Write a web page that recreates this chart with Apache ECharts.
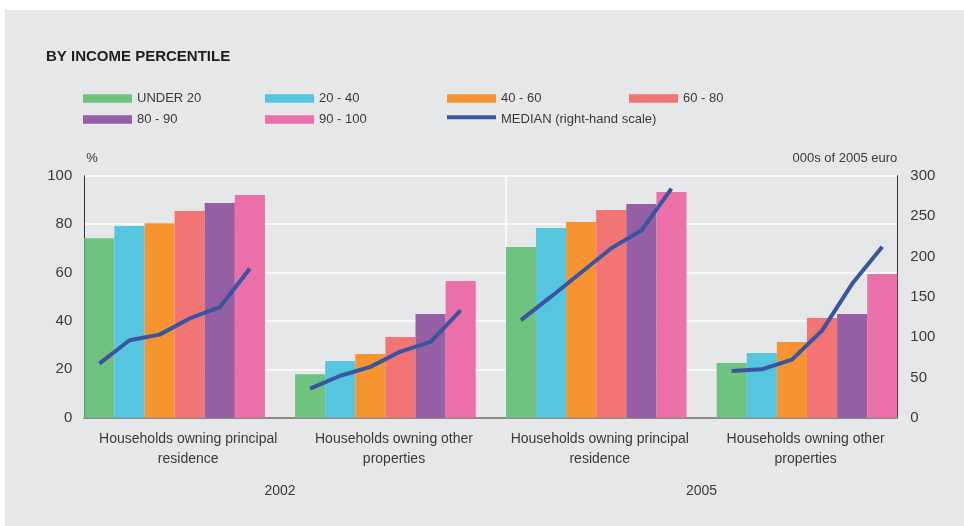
<!DOCTYPE html>
<html>
<head>
<meta charset="utf-8">
<title>By income percentile</title>
<script src="https://cdn.jsdelivr.net/npm/echarts@6/dist/echarts.min.js"></script>
<style>
  html, body { margin: 0; padding: 0; background: #ffffff; }
  #wrap { position: relative; width: 964px; height: 526px; overflow: hidden; }
  #panel { position: absolute; left: 5px; top: 10px; right: 0; bottom: 0; background: #e6e7e9; }
  #chart { position: absolute; left: 0; top: 0; width: 964px; height: 526px; }
</style>
</head>
<body>
<div id="wrap"><div id="panel"></div><div id="chart"></div></div>
<script>
// Group labels (x axis) and survey years
const groups = [
  'Households owning principal\nresidence',
  'Households owning other\nproperties',
  'Households owning principal\nresidence',
  'Households owning other\nproperties'
];
const years = ['2002', '2005'];

// Income percentile classes
const classes = ['UNDER 20', '20 - 40', '40 - 60', '60 - 80', '80 - 90', '90 - 100'];
const medianName = 'MEDIAN (right-hand scale)';

// Share of households (%), one value per group, per income class
const under20  = [74.2, 18.0, 70.5, 22.6];
const p20to40  = [79.2, 23.4, 78.4, 26.7];
const p40to60  = [80.4, 26.3, 80.9, 31.3];
const p60to80  = [85.4, 33.3, 85.8, 41.2];
const p80to90  = [88.7, 42.8, 88.3, 42.8];
const p90to100 = [92.0, 56.5, 93.3, 59.4];

// Median value (000s of 2005 euro), one value per income class, per group
const median2002Principal = [67, 96, 103, 123, 137, 185];
const median2002Other     = [36, 52, 63, 82, 94, 133];
const median2005Principal = [121, 150, 180, 210, 232, 284];
const median2005Other     = [58, 60, 72, 108, 166, 212];

// Axis scales
const leftMax = 100, leftStep = 20;
const rightMax = 300, rightStep = 50;

const colors = ['#6fc381', '#56c5e0', '#f69432', '#f27474', '#955ea5', '#eb6fa9'];
const lineColor = '#3a559f';
const font = 'Liberation Sans, Arial, Helvetica, sans-serif';
const textColor = '#3a3a3a';

// Each group occupies one slot per class, with one empty slot between groups
const shares = [under20, p20to40, p40to60, p60to80, p80to90, p90to100];
const medians = [median2002Principal, median2002Other, median2005Principal, median2005Other];
const PER = classes.length;
const STEP = PER + 1;
const slotCount = groups.length * STEP - 1;
const slots = Array.from({ length: slotCount }, (_, i) => 'slot' + i);

function emptySlots() { return Array.from({ length: slotCount }, () => '-'); }

const barSeries = classes.map((name, k) => {
  const data = emptySlots();
  groups.forEach((_, g) => { data[g * STEP + k] = shares[k][g]; });
  return {
    name, type: 'bar', xAxisIndex: 0, yAxisIndex: 0,
    data, barGap: '-100%', barCategoryGap: 0,
    itemStyle: { color: colors[k] },
    emphasis: { disabled: true }, z: 2
  };
});

const medianData = emptySlots();
medians.forEach((vals, g) => vals.forEach((v, k) => { medianData[g * STEP + k] = v; }));

// Year label positions: centre of each pair of groups, in slot units
const yearPos = years.map((_, i) => (i * 2 + 1) * STEP - 0.5);

const plotBox = { left: 84.3, right: 66.7, top: 175.7, bottom: 108.3, outerBoundsMode: 'none', containLabel: false };

// Legend key for the median: a thick stroke in the upper half of the swatch box
// (the tiny corner mark keeps the path's box the full swatch height)
const medianIcon = 'path://M0,0H49V4H0Z M0,8.5L0.05,8.5L0.05,8.45Z';

// Legend laid out in fixed columns, two rows
const legendColumns = [
  [classes[0], classes[4]],
  [classes[1], classes[5]],
  [classes[2], medianName],
  [classes[3]]
];
const legendLeft = [83, 265, 447, 629];
const legends = legendColumns.map((names, c) => ({
  data: names.map(n => n === medianName
    ? { name: n, icon: medianIcon, itemStyle: { color: lineColor } }
    : { name: n, icon: 'rect' }),
  orient: 'vertical',
  left: legendLeft[c], top: 92, padding: 0, itemGap: 8,
  itemWidth: 49, itemHeight: 8.5,
  textStyle: { fontFamily: font, fontSize: 13, lineHeight: 13, color: textColor },
  selectedMode: false
}));

const option = {
  backgroundColor: 'transparent',
  animation: false,
  title: {
    text: 'BY INCOME PERCENTILE',
    left: 46, top: 49.5, padding: 0,
    textStyle: { fontFamily: font, fontSize: 15, fontWeight: 'bold', color: '#1e1e1e' }
  },
  legend: legends,
  grid: [
    Object.assign({}, plotBox),
    { left: 85.3, right: 55.5, top: 175.7, bottom: 108.3, outerBoundsMode: 'none', containLabel: false },
    Object.assign({}, plotBox)
  ],
  xAxis: [
    {
      type: 'category', gridIndex: 0, position: 'bottom', data: slots, boundaryGap: true,
      axisLine: { show: true, lineStyle: { color: '#8a8a8a', width: 2 } },
      axisTick: { show: false }, axisLabel: { show: false }, splitLine: { show: false }
    },
    {
      // divider between the two survey years
      type: 'value', gridIndex: 0, position: 'top', min: 0, max: slotCount, interval: STEP * 2,
      axisLine: { show: false }, axisTick: { show: false }, axisLabel: { show: false },
      splitLine: { show: true, showMinLine: false, showMaxLine: false, lineStyle: { color: '#ffffff', width: 1.5 } }
    },
    {
      type: 'category', gridIndex: 1, position: 'bottom', data: groups, boundaryGap: true,
      axisLine: { show: false }, axisTick: { show: false }, splitLine: { show: false },
      axisLabel: { margin: 11.7, lineHeight: 20, fontFamily: font, fontSize: 14, color: textColor, interval: 0 }
    },
    {
      // survey years under the group labels
      type: 'value', gridIndex: 2, position: 'bottom', min: 0, max: slotCount, interval: 0.5,
      axisLine: { show: false }, axisTick: { show: false }, splitLine: { show: false },
      axisLabel: {
        show: true, margin: 63, lineHeight: 20,
        fontFamily: font, fontSize: 14, color: textColor,
        hideOverlap: false,
        formatter: v => { const i = yearPos.indexOf(v); return i >= 0 ? years[i] : ''; }
      }
    }
  ],
  yAxis: [
    {
      type: 'value', gridIndex: 0, position: 'left', min: 0, max: leftMax, interval: leftStep,
      name: '%', nameLocation: 'end', nameGap: 17,
      nameTextStyle: { fontFamily: font, fontSize: 13, color: textColor, align: 'left', verticalAlign: 'middle', padding: [0, 0, 0, 2] },
      axisLine: { show: true, lineStyle: { color: '#333333', width: 1 } },
      axisTick: { show: false },
      axisLabel: { margin: 12, fontFamily: font, fontSize: 15, color: textColor },
      splitLine: { show: true, lineStyle: { color: '#ffffff', width: 1.5 } }
    },
    {
      type: 'value', gridIndex: 0, position: 'right', min: 0, max: rightMax, interval: rightStep,
      name: '000s of 2005 euro', nameLocation: 'end', nameGap: 17,
      nameTextStyle: { fontFamily: font, fontSize: 13, color: textColor, align: 'right', verticalAlign: 'middle' },
      axisLine: { show: true, lineStyle: { color: '#333333', width: 1 } },
      axisTick: { show: false },
      axisLabel: { margin: 13, fontFamily: font, fontSize: 15, color: textColor },
      splitLine: { show: false }
    },
    { type: 'value', gridIndex: 1, show: false, min: 0, max: 1 },
    { type: 'value', gridIndex: 2, show: false, min: 0, max: 1 }
  ],
  series: barSeries.concat([
    {
      name: medianName, type: 'line', xAxisIndex: 0, yAxisIndex: 1,
      data: medianData, connectNulls: false,
      symbol: 'none', lineStyle: { color: lineColor, width: 4 },
      itemStyle: { color: lineColor },
      emphasis: { disabled: true }, z: 5
    }
  ])
};

const chart = echarts.init(document.getElementById('chart'), null, { renderer: 'canvas' });
chart.setOption(option);
</script>
</body>
</html>
